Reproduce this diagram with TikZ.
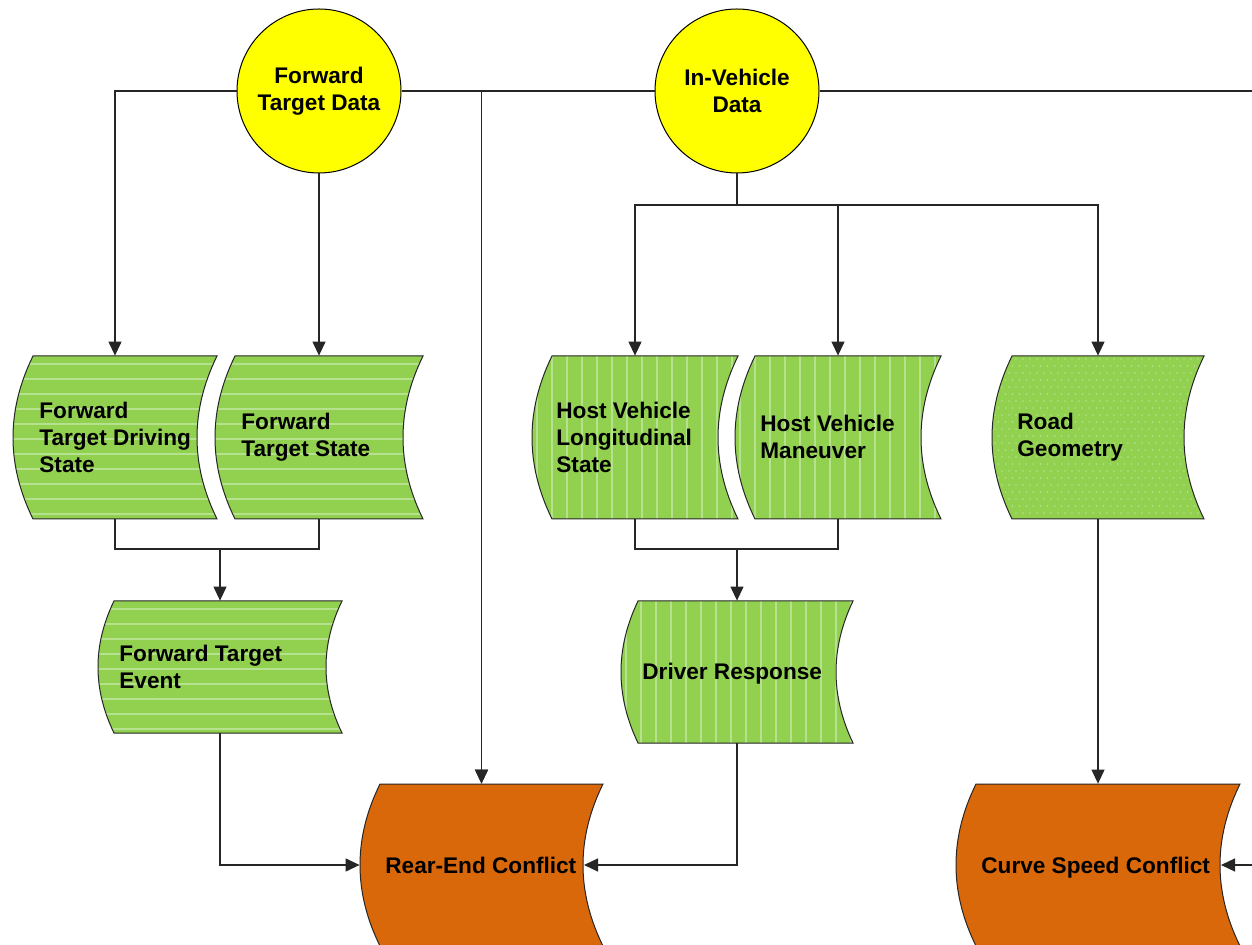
\documentclass[tikz,border=0pt]{standalone}
\usepackage{fontspec}
\setmainfont{Liberation Sans}
\usetikzlibrary{arrows.meta}
\definecolor{dgreen}{HTML}{92D050}
\definecolor{lgreen}{HTML}{B6E290}
\definecolor{dorange}{HTML}{D9680B}
\definecolor{ylw}{HTML}{FFFF00}
\tikzset{
  sbox/.style={draw=none, inner sep=0pt, rectangle},
  lbl/.style={font=\fontsize{11.3}{13.5}\selectfont\bfseries, inner sep=0pt, align=left},
  datacircle/.style={circle, draw=black, line width=0.5pt, fill=ylw, minimum size=82pt, inner sep=0pt, align=center, font=\fontsize{11.3}{13.5}\selectfont\bfseries},
  outline/.style={draw=black!85, line width=0.5pt},
  stripe/.style={draw=lgreen, line width=0.8pt},
  conn/.style={draw=black!85, line width=0.6pt},
  arr/.style={conn, -{Triangle[length=7pt,width=6.5pt]}},
}
% #1 name, #2 xL, #3 xR, #4 top, #5 bottom, #6 sagitta, #7 fill colour, #8 pattern (0 none,1 horizontal,2 vertical,3 dots)
\newcommand\dshape[8]{%
  \pgfmathsetmacro\hh{(#5-#4)/3}%
  \pgfmathsetmacro\cc{4/3*#6}%
  \node[sbox, minimum width={(#3-#2+#6)*0.5pt}, minimum height={(#5-#4)*0.5pt}] (#1) at ({(#2-#6+#3)/2},{(#4+#5)/2}) {};
  \begin{scope}
    \clip (#2,#4) -- (#3,#4) .. controls ({#3-\cc},{#4+\hh}) and ({#3-\cc},{#5-\hh}) .. (#3,#5) -- (#2,#5) .. controls ({#2-\cc},{#5-\hh}) and ({#2-\cc},{#4+\hh}) .. (#2,#4) -- cycle;
    \fill[#7] ({#2-#6-4},{#4-4}) rectangle ({#3+4},{#5+4});
    \ifcase#8\relax
    \or
      \foreach \k in {0,...,11} {\draw[stripe] ({#2-#6-4},{#4+8+15*\k}) -- ({#3+4},{#4+8+15*\k});}
    \or
      \foreach \k in {0,...,16} {\draw[stripe] ({#2-#6+5+15*\k},{#4-4}) -- ({#2-#6+5+15*\k},{#5+4});}
    \or
      \foreach \i in {0,...,30} {\foreach \j in {0,...,23} {\fill[lgreen] ({#2-#6+3+7*\i+mod(\j,2)*3.5},{#4+3+7*\j}) circle (0.8);}}
    \fi
  \end{scope}
  \draw[outline] (#2,#4) -- (#3,#4) .. controls ({#3-\cc},{#4+\hh}) and ({#3-\cc},{#5-\hh}) .. (#3,#5) -- (#2,#5) .. controls ({#2-\cc},{#5-\hh}) and ({#2-\cc},{#4+\hh}) .. (#2,#4) -- cycle;
}
\begin{document}
\begin{tikzpicture}[x=0.5pt, y=-0.5pt]
\useasboundingbox (0,0) rectangle (1252,945);
\fill[white] (0,0) rectangle (1252,945);

\coordinate (offR) at (1252,91);
\coordinate (ivj) at (737,205);
\coordinate (fj) at (220,549);
\coordinate (hj) at (737,549);
\coordinate (recR) at (584,865);
\coordinate (cscR) at (1221,865);
\coordinate (offR2) at (1252,865);

% data sources
\node[datacircle] (ftd) at (319,91) {Forward\\Target Data};
\node[datacircle] (ivd) at (737,91) {In-Vehicle\\Data};

% green data shapes
\dshape{ftds}{33}{217}{356}{519}{20}{dgreen}{1}
\dshape{fts}{235}{423}{356}{519}{20}{dgreen}{1}
\dshape{hvls}{552}{738}{356}{519}{20}{dgreen}{2}
\dshape{hvm}{755}{941}{356}{519}{20}{dgreen}{2}
\dshape{road}{1012}{1204}{356}{519}{20}{dgreen}{3}
\dshape{fte}{114}{342}{601}{733}{16}{dgreen}{1}
\dshape{dr}{638}{853}{601}{743}{17}{dgreen}{2}
% conflicts
\dshape{rec}{380}{603}{784}{946}{20}{dorange}{0}
\dshape{csc}{976}{1240}{784}{946}{20}{dorange}{0}

% labels
\node[lbl, anchor=west] (ftds-l) at (39,437) {Forward\\Target Driving\\State};
\node[lbl, anchor=west] (fts-l) at (241,437) {Forward\\Target State};
\node[lbl, anchor=west] (hvls-l) at (556,437) {Host Vehicle\\Longitudinal\\State};
\node[lbl, anchor=west] (hvm-l) at (760,437) {Host Vehicle\\Maneuver};
\node[lbl, anchor=west] (road-l) at (1017,437) {Road\\Geometry};
\node[lbl, anchor=west] (fte-l) at (119,667) {Forward Target\\Event};
\node[lbl, anchor=west] (dr-l) at (642,674) {Driver Response};
\node[lbl, anchor=west] (rec-l) at (385,865) {Rear-End Conflict};
\node[lbl, anchor=west] (csc-l) at (981,868) {Curve Speed Conflict};

% connectors
\draw[arr] (ftd.west) -| (ftds.north);
\draw[arr] (ftd.south) -- (fts.north);
\draw[arr] (ftd.east) -| (rec.north);
\draw[arr] (ivd.west) -| (rec.north);
\draw[conn] (ivd.east) -- (offR);
\draw[conn] (ivd.south) -- (ivj);
\draw[arr] (ivj) -| (hvls.north);
\draw[arr] (ivj) -| (hvm.north);
\draw[arr] (ivj) -| (road.north);
\draw[conn] (ftds.south) |- (fj);
\draw[conn] (fts.south) |- (fj);
\draw[arr] (fj) -- (fte.north);
\draw[conn] (hvls.south) |- (hj);
\draw[conn] (hvm.south) |- (hj);
\draw[arr] (hj) -- (dr.north);
\draw[arr] (fte.south) |- (rec.west);
\draw[arr] (dr.south) |- (recR);
\draw[arr] (road.south) -- (csc.north);
\draw[arr] (offR2) -- (cscR);
\end{tikzpicture}
\end{document}
